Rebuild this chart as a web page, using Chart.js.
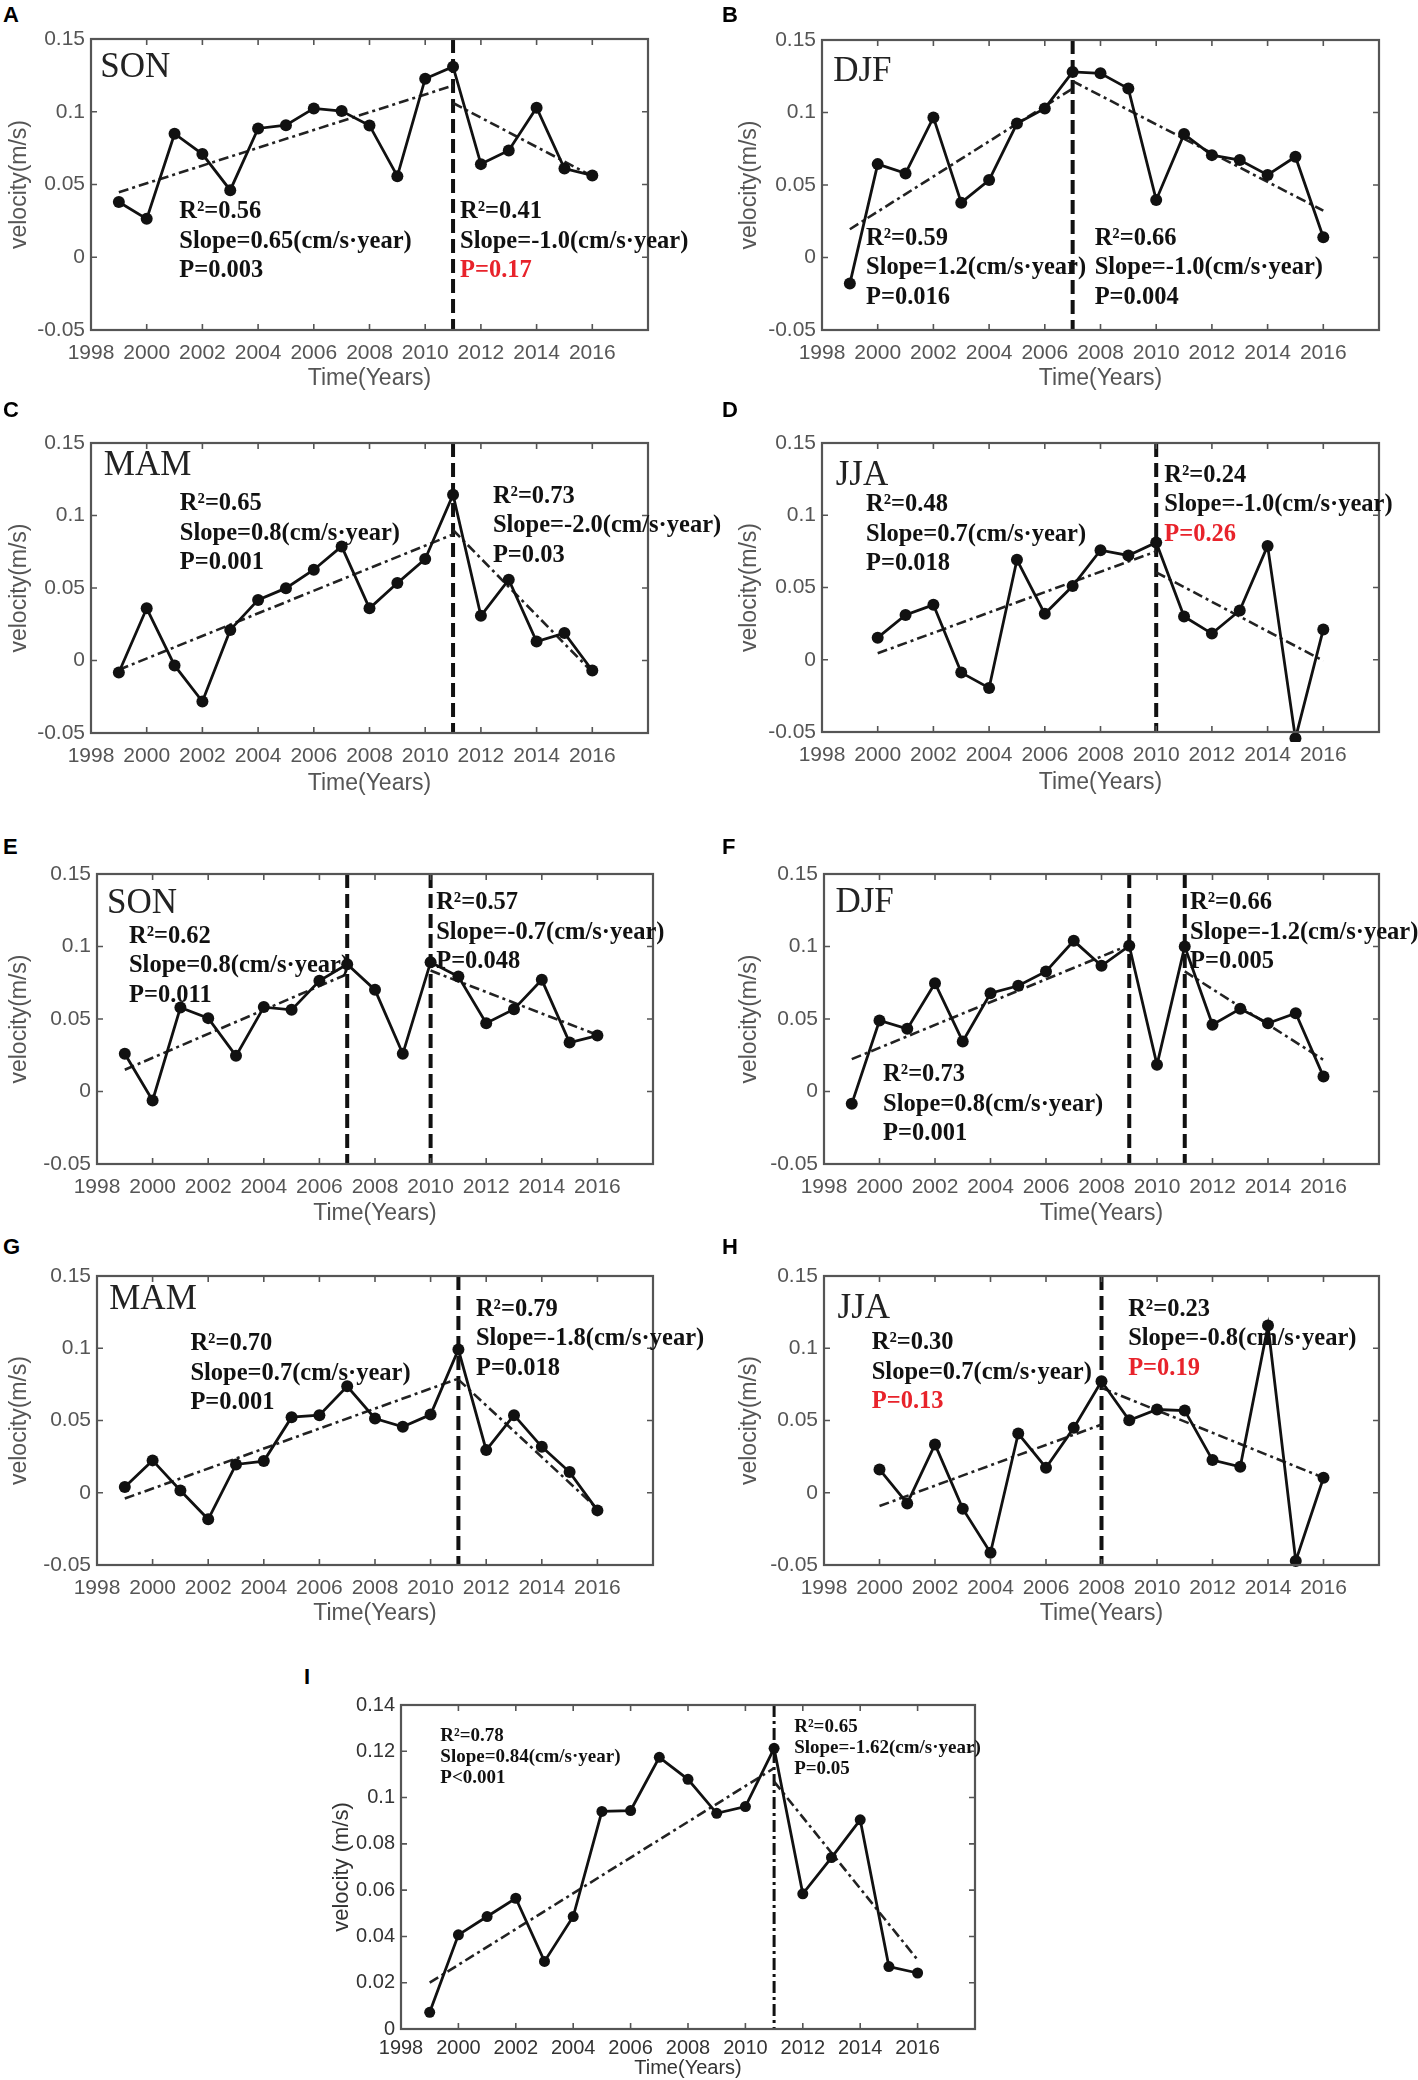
<!DOCTYPE html>
<html>
<head>
<meta charset="utf-8">
<script src="https://cdn.jsdelivr.net/npm/chart.js@4.4.1/dist/chart.umd.min.js"></script>
<style>
  html, body { margin: 0; padding: 0; background: #fff; }
  #page { position: relative; width: 1418px; height: 2080px; background: #fff; overflow: hidden; }
  .panel { position: absolute; }
  .letter { position: absolute; font: bold 22px "Liberation Sans", Arial, sans-serif; line-height: 22px; color: #000; }
</style>
</head>
<body>
<div id="page"></div>
<script>
// ---- data ----
const YEARS_FROM_99 = [1999, 2000, 2001, 2002, 2003, 2004, 2005, 2006, 2007, 2008, 2009, 2010, 2011, 2012, 2013, 2014, 2015, 2016];
const YEARS_FROM_00 = [2000, 2001, 2002, 2003, 2004, 2005, 2006, 2007, 2008, 2009, 2010, 2011, 2012, 2013, 2014, 2015, 2016];
const X_TICKS = [1998, 2000, 2002, 2004, 2006, 2008, 2010, 2012, 2014, 2016, 2018];
const Y_TICKS_SEASON = [-0.05, 0, 0.05, 0.1, 0.15];
const Y_TICKS_ANNUAL = [0, 0.02, 0.04, 0.06, 0.08, 0.1, 0.12, 0.14];

const SON_A = [0.038, 0.0264, 0.0849, 0.0709, 0.0461, 0.0885, 0.0908, 0.1023, 0.1005, 0.0906, 0.0557, 0.1227, 0.131, 0.064, 0.0734, 0.1028, 0.061, 0.0562];
const DJF_B = [-0.018, 0.0644, 0.058, 0.0966, 0.0378, 0.0534, 0.0924, 0.1028, 0.128, 0.127, 0.1165, 0.0397, 0.0851, 0.0706, 0.0672, 0.0569, 0.0695, 0.014];
const MAM_C = [-0.0083, 0.036, -0.0034, -0.0283, 0.0211, 0.0418, 0.0499, 0.0626, 0.0787, 0.036, 0.0534, 0.07, 0.1143, 0.0308, 0.0557, 0.0131, 0.0189, -0.0069];
const JJA_D = [0.0153, 0.031, 0.038, -0.0089, -0.0195, 0.0692, 0.0318, 0.051, 0.0758, 0.0722, 0.0812, 0.0299, 0.0181, 0.0341, 0.0788, -0.0544, 0.021];
const SON_E = [0.026, -0.0062, 0.0579, 0.0506, 0.0246, 0.0582, 0.0563, 0.0763, 0.0878, 0.0701, 0.026, 0.0892, 0.0793, 0.0471, 0.0568, 0.077, 0.0338, 0.0386];
const DJF_F = [-0.0085, 0.049, 0.0432, 0.0747, 0.0345, 0.0678, 0.0729, 0.0828, 0.1039, 0.0867, 0.1005, 0.0184, 0.1, 0.046, 0.057, 0.0471, 0.054, 0.0103];
const MAM_G = [0.0039, 0.0224, 0.0016, -0.0184, 0.0196, 0.0219, 0.0523, 0.0537, 0.0737, 0.0514, 0.0456, 0.0541, 0.0991, 0.0295, 0.0537, 0.0318, 0.0143, -0.0122];
const JJA_H = [0.0161, -0.0074, 0.0334, -0.011, -0.0415, 0.041, 0.0173, 0.0449, 0.0772, 0.0502, 0.0576, 0.0569, 0.0226, 0.018, 0.1157, -0.0472, 0.0104];
const ANNUAL_I = [0.0072, 0.0407, 0.0486, 0.0565, 0.0292, 0.0486, 0.094, 0.0944, 0.1174, 0.1079, 0.0932, 0.0961, 0.1213, 0.0584, 0.0741, 0.0904, 0.027, 0.0242];

// fitted segments: [fromYear, fromValue, toYear, toValue]
const TREND_A = [[1999, 0.0447, 2011, 0.118], [2011, 0.106, 2016, 0.0557]];
const TREND_B = [[1999, 0.0195, 2007, 0.1165], [2007, 0.1216, 2016, 0.0323]];
const TREND_C = [[1999, -0.0064, 2011, 0.087], [2011, 0.09, 2016, -0.008]];
const TREND_D = [[2000, 0.0045, 2010, 0.075], [2010, 0.0605, 2016, -0.0007]];
const TREND_E = [[1999, 0.015, 2007, 0.081], [2010, 0.0834, 2016, 0.039]];
const TREND_F = [[1999, 0.0223, 2009, 0.101], [2011, 0.0828, 2016, 0.0218]];
const TREND_G = [[1999, -0.004, 2011, 0.079], [2011, 0.0783, 2016, -0.011]];
const TREND_H = [[2000, -0.0092, 2008, 0.0472], [2008, 0.0726, 2016, 0.0104]];
const TREND_I = [[1999, 0.02, 2011, 0.1127], [2011, 0.1069, 2016, 0.0299]];

const BREAK_A = [2011], BREAK_B = [2007], BREAK_C = [2011], BREAK_D = [2010], BREAK_E = [2007, 2010];
const BREAK_F = [2009, 2011], BREAK_G = [2011], BREAK_H = [2008], BREAK_I = [2011];

const STATS_A = [["R²=0.56", "Slope=0.65(cm/s·year)", "P=0.003"], ["R²=0.41", "Slope=-1.0(cm/s·year)", "P=0.17"]];
const STATS_B = [["R²=0.59", "Slope=1.2(cm/s·year)", "P=0.016"], ["R²=0.66", "Slope=-1.0(cm/s·year)", "P=0.004"]];
const STATS_C = [["R²=0.65", "Slope=0.8(cm/s·year)", "P=0.001"], ["R²=0.73", "Slope=-2.0(cm/s·year)", "P=0.03"]];
const STATS_D = [["R²=0.48", "Slope=0.7(cm/s·year)", "P=0.018"], ["R²=0.24", "Slope=-1.0(cm/s·year)", "P=0.26"]];
const STATS_E = [["R²=0.62", "Slope=0.8(cm/s·year)", "P=0.011"], ["R²=0.57", "Slope=-0.7(cm/s·year)", "P=0.048"]];
const STATS_F = [["R²=0.73", "Slope=0.8(cm/s·year)", "P=0.001"], ["R²=0.66", "Slope=-1.2(cm/s·year)", "P=0.005"]];
const STATS_G = [["R²=0.70", "Slope=0.7(cm/s·year)", "P=0.001"], ["R²=0.79", "Slope=-1.8(cm/s·year)", "P=0.018"]];
const STATS_H = [["R²=0.30", "Slope=0.7(cm/s·year)", "P=0.13"], ["R²=0.23", "Slope=-0.8(cm/s·year)", "P=0.19"]];
const STATS_I = [["R²=0.78", "Slope=0.84(cm/s·year)", "P<0.001"], ["R²=0.65", "Slope=-1.62(cm/s·year)", "P=0.05"]];

// which P values are printed in red (not significant)
const RED_A = [false, true], RED_B = [false, false], RED_C = [false, false], RED_D = [false, true];
const RED_E = [false, false], RED_F = [false, false], RED_G = [false, false], RED_H = [true, true], RED_I = [false, false];

// ---- layout (page pixels) ----
const SANS = '"Liberation Sans", Arial, sans-serif';
const SERIF = '"Liberation Serif", "Times New Roman", serif';

// left column canvases are a bit wider so text running past the frame is not cut
const LAYOUT = {
  A: { box: [0, 0, 760, 400], area: [91, 39, 648, 330], letter: [3, 8], yTitleX: 20, xTitleY: 379, season: [1998.33, 0.130], left: [2001.17, 0.031], right: [2011.25, 0.031] },
  B: { box: [709, 0, 709, 400], area: [822, 40, 1379, 330], letter: [722, 8], yTitleX: 750, xTitleY: 379, season: [1998.4, 0.128], left: [1999.58, 0.0133], right: [2007.79, 0.0133] },
  C: { box: [0, 400, 760, 420], area: [91, 443, 648, 733], letter: [3, 403], yTitleX: 20, xTitleY: 784, season: [1998.46, 0.134], left: [2001.19, 0.108], right: [2012.43, 0.113] },
  D: { box: [709, 400, 709, 420], area: [822, 443, 1379, 732], letter: [722, 403], yTitleX: 750, xTitleY: 783, season: [1998.49, 0.1275], left: [1999.58, 0.107], right: [2010.29, 0.1275] },
  E: { box: [0, 830, 760, 400], area: [97, 874, 653, 1164], letter: [3, 840], yTitleX: 20, xTitleY: 1214, season: [1998.36, 0.1294], left: [1999.15, 0.107], right: [2010.2, 0.130] },
  F: { box: [709, 830, 709, 400], area: [824, 874, 1379, 1164], letter: [722, 840], yTitleX: 750, xTitleY: 1214, season: [1998.41, 0.13], left: [2000.13, 0.0115], right: [2011.19, 0.13] },
  G: { box: [0, 1250, 760, 390], area: [97, 1276, 653, 1565], letter: [3, 1240], yTitleX: 20, xTitleY: 1614, season: [1998.44, 0.1336], left: [2001.36, 0.103], right: [2011.63, 0.127] },
  H: { box: [709, 1250, 709, 390], area: [824, 1276, 1379, 1565], letter: [722, 1240], yTitleX: 750, xTitleY: 1614, season: [1998.49, 0.127], left: [1999.72, 0.1037], right: [2008.96, 0.127] },
  I: { box: [290, 1650, 760, 430], area: [401, 1705, 975, 2029], letter: [304, 1670], yTitleX: 342, xTitleY: 2068, season: null, left: [1999.37, 0.1266], right: [2011.7, 0.1306] }
};

const PANELS = [
  { id: "A", years: YEARS_FROM_99, values: SON_A, trend: TREND_A, breaks: BREAK_A, stats: STATS_A, red: RED_A, season: "SON", yTicks: Y_TICKS_SEASON },
  { id: "B", years: YEARS_FROM_99, values: DJF_B, trend: TREND_B, breaks: BREAK_B, stats: STATS_B, red: RED_B, season: "DJF", yTicks: Y_TICKS_SEASON },
  { id: "C", years: YEARS_FROM_99, values: MAM_C, trend: TREND_C, breaks: BREAK_C, stats: STATS_C, red: RED_C, season: "MAM", yTicks: Y_TICKS_SEASON },
  { id: "D", years: YEARS_FROM_00, values: JJA_D, trend: TREND_D, breaks: BREAK_D, stats: STATS_D, red: RED_D, season: "JJA", yTicks: Y_TICKS_SEASON },
  { id: "E", years: YEARS_FROM_99, values: SON_E, trend: TREND_E, breaks: BREAK_E, stats: STATS_E, red: RED_E, season: "SON", yTicks: Y_TICKS_SEASON },
  { id: "F", years: YEARS_FROM_99, values: DJF_F, trend: TREND_F, breaks: BREAK_F, stats: STATS_F, red: RED_F, season: "DJF", yTicks: Y_TICKS_SEASON },
  { id: "G", years: YEARS_FROM_99, values: MAM_G, trend: TREND_G, breaks: BREAK_G, stats: STATS_G, red: RED_G, season: "MAM", yTicks: Y_TICKS_SEASON },
  { id: "H", years: YEARS_FROM_00, values: JJA_H, trend: TREND_H, breaks: BREAK_H, stats: STATS_H, red: RED_H, season: "JJA", yTicks: Y_TICKS_SEASON },
  { id: "I", years: YEARS_FROM_99, values: ANNUAL_I, trend: TREND_I, breaks: BREAK_I, stats: STATS_I, red: RED_I, season: null, yTicks: Y_TICKS_ANNUAL }
];

// box round the plot area with inward ticks on all four sides (matlab style)
const framePlugin = {
  id: "frame",
  afterDatasetsDraw(chart, args, o) {
    const { ctx, chartArea: a, scales: { x, y } } = chart;
    ctx.save();
    ctx.strokeStyle = "#555";
    ctx.lineWidth = 1.6;
    ctx.beginPath();
    X_TICKS.forEach((v) => {
      const px = x.getPixelForValue(v);
      ctx.moveTo(px, a.top); ctx.lineTo(px, a.top + 6);
      ctx.moveTo(px, a.bottom); ctx.lineTo(px, a.bottom - 6);
    });
    o.yTicks.forEach((v) => {
      const py = y.getPixelForValue(v);
      ctx.moveTo(a.left, py); ctx.lineTo(a.left + 6, py);
      ctx.moveTo(a.right, py); ctx.lineTo(a.right - 6, py);
    });
    ctx.stroke();
    ctx.lineWidth = 2.2;
    ctx.strokeRect(a.left, a.top, a.right - a.left, a.bottom - a.top);
    ctx.restore();
  }
};

// season name and regression statistics
const notesPlugin = {
  id: "notes",
  afterDraw(chart, args, o) {
    const { ctx, scales: { x, y } } = chart;
    ctx.save();
    ctx.textAlign = "left";
    ctx.textBaseline = "middle";
    if (o.season) {
      ctx.font = "35px " + SERIF;
      ctx.fillStyle = "#222";
      ctx.fillText(o.season, x.getPixelForValue(o.seasonAt[0]), y.getPixelForValue(o.seasonAt[1]));
    }
    ctx.font = "bold " + o.size + "px " + SERIF;
    o.blocks.forEach((b) => {
      const px = x.getPixelForValue(b.at[0]);
      const py = y.getPixelForValue(b.at[1]);
      b.lines.forEach((t, i) => {
        ctx.fillStyle = (i === b.lines.length - 1 && b.red) ? "#e8232b" : "#111";
        ctx.fillText(t, px, py + i * o.gap);
      });
    });
    ctx.restore();
  }
};

function makePanel(p) {
  const L = LAYOUT[p.id];
  const [cx, cy, cw, ch] = L.box;
  const [al, at, ar, ab] = L.area;
  const annual = p.id === "I";
  const yMin = p.yTicks[0], yMax = p.yTicks[p.yTicks.length - 1];
  const tickSize = annual ? 20 : 21;
  const titleSize = annual ? 20 : 23;
  const titleLH = titleSize * 1.2;

  const page = document.getElementById("page");
  const letter = document.createElement("div");
  letter.className = "letter";
  letter.textContent = p.id;
  letter.style.left = L.letter[0] + "px";
  letter.style.top = (L.letter[1] - 4) + "px";
  page.appendChild(letter);

  const holder = document.createElement("div");
  holder.className = "panel";
  holder.style.left = cx + "px";
  holder.style.top = cy + "px";
  holder.style.width = cw + "px";
  holder.style.height = ch + "px";
  const canvas = document.createElement("canvas");
  canvas.width = cw;
  canvas.height = ch;
  canvas.style.width = cw + "px";
  canvas.style.height = ch + "px";
  holder.appendChild(canvas);
  page.appendChild(holder);

  const datasets = [];
  datasets.push({
    data: p.years.map((yr, i) => ({ x: yr, y: p.values[i] })),
    borderColor: "#111",
    backgroundColor: "#111",
    borderWidth: 2.8,
    pointRadius: annual ? 5.5 : 6,
    // hover radius only widens the margin chart.js uses to skip points near the frame
    pointHoverRadius: 12,
    pointBorderWidth: 0,
    pointBackgroundColor: "#111",
    tension: 0,
    fill: false,
    clip: 10
  });
  p.trend.forEach((s) => {
    datasets.push({
      data: [{ x: s[0], y: s[1] }, { x: s[2], y: s[3] }],
      borderColor: "#222",
      borderWidth: 2.6,
      borderDash: [10, 4, 3, 4],
      pointRadius: 0,
      fill: false
    });
  });
  p.breaks.forEach((b) => {
    datasets.push({
      data: [{ x: b, y: yMax }, { x: b, y: yMin }],
      borderColor: "#111",
      borderWidth: annual ? 3 : 4,
      borderDash: annual ? [12, 4, 3, 4] : [14, 6],
      pointRadius: 0,
      fill: false
    });
  });

  const tickColor = annual ? "#333" : "#555";
  const xTitlePad = Math.max(0, (cy + ch) - L.xTitleY - titleLH / 2);

  new Chart(canvas, {
    type: "line",
    data: { datasets },
    plugins: [framePlugin, notesPlugin],
    options: {
      responsive: false,
      animation: false,
      events: [],
      devicePixelRatio: 1,
      layout: { padding: { left: 0, top: at - cy, right: cx + cw - ar, bottom: 0 } },
      plugins: {
        legend: { display: false },
        tooltip: { enabled: false },
        frame: { yTicks: p.yTicks },
        notes: {
          season: p.season,
          seasonAt: L.season,
          size: annual ? 19 : 24.5,
          gap: annual ? 21 : 29.5,
          blocks: [
            { at: L.left, lines: p.stats[0], red: p.red[0] },
            { at: L.right, lines: p.stats[1], red: p.red[1] }
          ]
        }
      },
      scales: {
        x: {
          type: "linear",
          min: 1998,
          max: 2018,
          afterBuildTicks: (axis) => { axis.ticks = X_TICKS.map((v) => ({ value: v })); },
          afterFit: (s) => { s.height = cy + ch - ab; },
          grid: { display: false, drawTicks: false },
          border: { display: false },
          ticks: {
            autoSkip: false,
            maxRotation: 0,
            padding: annual ? 7 : 11,
            color: tickColor,
            font: { family: SANS, size: tickSize },
            callback: (v) => (v === 2018 ? "" : String(v))
          },
          title: {
            display: true,
            text: "Time(Years)",
            color: tickColor,
            font: { family: SANS, size: titleSize },
            padding: { top: 0, bottom: xTitlePad }
          }
        },
        y: {
          type: "linear",
          min: yMin,
          max: yMax,
          afterBuildTicks: (axis) => { axis.ticks = p.yTicks.map((v) => ({ value: v })); },
          afterFit: (s) => { s.width = al - cx; },
          grid: { display: false, drawTicks: false },
          border: { display: false },
          ticks: {
            padding: 6,
            color: tickColor,
            font: { family: SANS, size: tickSize },
            callback: (v) => String(v)
          },
          title: {
            display: true,
            text: annual ? "velocity (m/s)" : "velocity(m/s)",
            color: tickColor,
            font: { family: SANS, size: annual ? 22 : titleSize },
            padding: { top: L.yTitleX - cx - (annual ? 22 : titleSize) * 0.6, bottom: 0 }
          }
        }
      }
    }
  });
}

PANELS.forEach(makePanel);
</script>
</body>
</html>
